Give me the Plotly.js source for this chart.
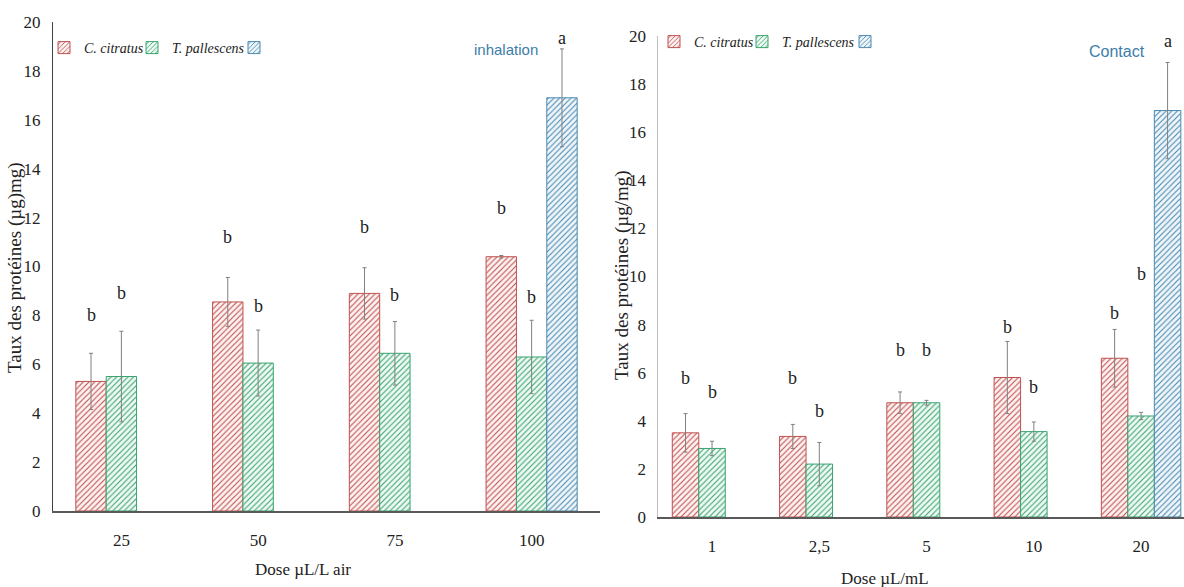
<!DOCTYPE html>
<html>
<head>
<meta charset="utf-8">
<script src="https://cdn.plot.ly/plotly-3.0.1.min.js"></script>
<style>html,body{margin:0;padding:0;background:#fff;}#chart{width:1184px;height:587px;}</style>
</head>
<body>
<div id="chart"></div>
<script>
// ---- Data: inhalation (left) ----
const inhalationDoses = ['25', '50', '75', '100'];
const inhalationCitratus = [5.3, 8.55, 8.9, 10.4];
const inhalationCitratusErr = [1.15, 1.0, 1.05, 0.05];
const inhalationPallescens = [5.5, 6.05, 6.45, 6.3];
const inhalationPallescensErr = [1.85, 1.35, 1.3, 1.5];
const inhalationThird = [null, null, null, 16.9];
const inhalationThirdErr = [0, 0, 0, 2.0];
const inhalationCitratusLetters = ['b', 'b', 'b', 'b'];
const inhalationCitratusLetterY = [8.0, 11.2, 11.6, 12.4];
const inhalationPallescensLetters = ['b', 'b', 'b', 'b'];
const inhalationPallescensLetterY = [8.9, 8.4, 8.85, 8.75];
const inhalationThirdLetters = [null, null, null, 'a'];
const inhalationThirdLetterY = [null, null, null, 19.35];

// ---- Data: contact (right) ----
const contactDoses = ['1', '2,5', '5', '10', '20'];
const contactCitratus = [3.5, 3.35, 4.75, 5.8, 6.6];
const contactCitratusErr = [0.8, 0.5, 0.45, 1.5, 1.2];
const contactPallescens = [2.85, 2.2, 4.75, 3.55, 4.2];
const contactPallescensErr = [0.3, 0.9, 0.1, 0.4, 0.15];
const contactThird = [null, null, null, null, 16.9];
const contactThirdErr = [0, 0, 0, 0, 2.0];
const contactCitratusLetters = ['b', 'b', 'b', 'b', 'b'];
const contactCitratusLetterY = [5.8, 5.8, 6.95, 7.9, 8.5];
const contactPallescensLetters = ['b', 'b', 'b', 'b', 'b'];
const contactPallescensLetterY = [5.2, 4.4, 6.95, 5.4, 10.1];
const contactThirdLetters = [null, null, null, null, 'a'];
const contactThirdLetterY = [null, null, null, null, 19.8];

const seriesNames = ['<i>C. citratus</i>', '<i>T. pallescens</i>', ' '];
const yTicks = [0, 2, 4, 6, 8, 10, 12, 14, 16, 18, 20];

// ---- Styles ----
const colors = ['#c0504d', '#3aa36f', '#4a88b0'];
const tints = ['#fdf3f3', '#effaf4', '#f0f7fb'];
const serif = 'Liberation Serif, Times New Roman, serif';
const sans = 'Liberation Sans, Arial, sans-serif';
const W = 1184, H = 587;
const wL = 0.222, wR = 0.247;

function paperX(px) { return px / W; }
function paperY(py) { return 1 - py / H; }

function barTrace(x, y, err, i, w, xa, ya, legend) {
  return {
    type: 'bar', x: x, y: y, name: seriesNames[i],
    xaxis: xa, yaxis: ya, legend: legend,
    width: w, offset: -1.5 * w + i * w,
    marker: {
      color: tints[i],
      line: {color: colors[i], width: 1},
      pattern: {shape: '/', fgcolor: colors[i], bgcolor: tints[i], size: 4, solidity: 0.28, fillmode: 'replace'}
    },
    error_y: {type: 'data', array: err, visible: true, color: '#808080', thickness: 1, width: 2},
    hoverinfo: 'skip'
  };
}

const traces = [
  barTrace(inhalationDoses, inhalationCitratus, inhalationCitratusErr, 0, wL, 'x', 'y', 'legend'),
  barTrace(inhalationDoses, inhalationPallescens, inhalationPallescensErr, 1, wL, 'x', 'y', 'legend2'),
  barTrace(inhalationDoses, inhalationThird, inhalationThirdErr, 2, wL, 'x', 'y', 'legend3'),
  barTrace(contactDoses, contactCitratus, contactCitratusErr, 0, wR, 'x2', 'y2', 'legend4'),
  barTrace(contactDoses, contactPallescens, contactPallescensErr, 1, wR, 'x2', 'y2', 'legend5'),
  barTrace(contactDoses, contactThird, contactThirdErr, 2, wR, 'x2', 'y2', 'legend6')
];

const annotations = [];
function addLetters(letters, ys, i, w, xa, ya) {
  letters.forEach(function (t, k) {
    if (t === null || ys[k] === null) return;
    annotations.push({
      xref: xa, yref: ya, x: k + (i - 1) * w, y: ys[k], text: t, showarrow: false,
      xanchor: 'center', yanchor: 'middle',
      font: {family: serif, size: 18, color: '#222'}
    });
  });
}
addLetters(inhalationCitratusLetters, inhalationCitratusLetterY, 0, wL, 'x', 'y');
addLetters(inhalationPallescensLetters, inhalationPallescensLetterY, 1, wL, 'x', 'y');
addLetters(inhalationThirdLetters, inhalationThirdLetterY, 2, wL, 'x', 'y');
addLetters(contactCitratusLetters, contactCitratusLetterY, 0, wR, 'x2', 'y2');
addLetters(contactPallescensLetters, contactPallescensLetterY, 1, wR, 'x2', 'y2');
addLetters(contactThirdLetters, contactThirdLetterY, 2, wR, 'x2', 'y2');

function paperText(px, py, text, font, angle) {
  return {xref: 'paper', yref: 'paper', x: paperX(px), y: paperY(py), text: text, showarrow: false,
          xanchor: 'center', yanchor: 'middle', textangle: angle || 0, font: font};
}
annotations.push(
  paperText(506, 50, 'inhalation', {family: sans, size: 15, color: '#3c7da8'}),
  paperText(1117, 52, 'Contact', {family: sans, size: 16, color: '#3c7da8'}),
  paperText(15, 268, 'Taux des protéines (µg)mg)', {family: serif, size: 19, color: '#222'}, -90),
  paperText(622, 275, 'Taux des protéines (µg/mg)', {family: serif, size: 19, color: '#222'}, -90),
  paperText(303, 569, 'Dose µL/L air', {family: serif, size: 17, color: '#222'}),
  paperText(885, 578, 'Dose µL/mL', {family: serif, size: 17, color: '#222'})
);

const tickFont = {family: serif, size: 17, color: '#222'};
function legendAt(swatchX, py) {
  return {orientation: 'h', x: paperX(swatchX - 19), y: paperY(py), xanchor: 'left', yanchor: 'middle',
          font: {family: serif, size: 14, color: '#222'}, bgcolor: 'rgba(0,0,0,0)'};
}
const layout = {
  width: W, height: H,
  margin: {l: 0, r: 0, t: 0, b: 0},
  paper_bgcolor: '#fff', plot_bgcolor: '#fff',
  barmode: 'overlay',
  showlegend: true,
  xaxis: {domain: [paperX(53), paperX(600)], anchor: 'y', type: 'category', range: [-0.5, 3.5],
          showline: true, linecolor: '#595959', linewidth: 1.5, ticks: '', showgrid: false,
          tickfont: tickFont, ticklabelstandoff: 13, zeroline: false},
  yaxis: {domain: [paperY(511), paperY(22)], anchor: 'x', range: [0, 20], tickvals: yTicks,
          showline: true, linecolor: '#404040', linewidth: 1, ticks: '', showgrid: false,
          tickfont: tickFont, ticklabelstandoff: 8, zeroline: false},
  xaxis2: {domain: [paperX(658.4), 1], anchor: 'y2', type: 'category', range: [-0.5, 4.4],
           showline: true, linecolor: '#595959', linewidth: 1.5, ticks: '', showgrid: false,
           tickfont: tickFont, ticklabelstandoff: 13, zeroline: false},
  yaxis2: {domain: [paperY(517), paperY(36)], anchor: 'x2', range: [0, 20], tickvals: yTicks,
           showline: true, linecolor: '#bfbfbf', linewidth: 1, ticks: '', showgrid: false,
           tickfont: tickFont, ticklabelstandoff: 8, zeroline: false},
  legend: legendAt(63, 48),
  legend2: legendAt(151, 48),
  legend3: legendAt(253, 48),
  legend4: legendAt(673, 42),
  legend5: legendAt(761, 42),
  legend6: legendAt(864, 42),
  annotations: annotations
};

Plotly.newPlot('chart', traces, layout, {staticPlot: true, displayModeBar: false});
</script>
</body>
</html>
